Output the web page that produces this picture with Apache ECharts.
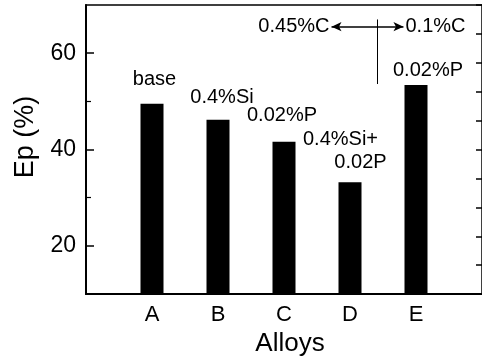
<!DOCTYPE html>
<html>
<head>
<meta charset="utf-8">
<script src="https://cdn.jsdelivr.net/npm/echarts@6/dist/echarts.min.js"></script>
<style>
  html, body { margin: 0; padding: 0; background: #fff; }
  #chart { width: 482px; height: 362px; }
</style>
</head>
<body>
<div id="chart"></div>
<script>
  var categories = ['A', 'B', 'C', 'D', 'E'];
  var epValues = [49.5, 46.2, 41.6, 33.2, 53.4];
  var barNotes = ['base', '0.4%Si', '0.02%P', '{a|0.4%Si+}\n{b|0.02P}', '0.02%P'];
  var yTickLabels = [20, 40, 60];
  var yMinorTicks = [30, 50];
  var carbonNotes = ['0.45%C', '0.1%C'];

  // label nudges, in px
  var noteOffsets = [[2.5, -14.7], [4, -11.7], [-2, -16.4], [0.5, -8.3], [12, -4.7]];

  var font = 'Liberation Sans, Arial, sans-serif';
  var chart = echarts.init(document.getElementById('chart'));

  var barData = epValues.map(function (v, i) {
    return { value: [i + 1, v], label: { offset: noteOffsets[i] } };
  });

  var option = {
    animation: false,
    grid: {
      left: 86, right: -1, top: 5, bottom: 66,
      show: true, borderColor: '#000', borderWidth: 1.5
    },
    xAxis: {
      type: 'value', min: 0, max: 6, interval: 1,
      name: 'Alloys', nameLocation: 'middle', nameGap: 34,
      nameTextStyle: { color: '#000', fontSize: 26, fontFamily: font, padding: [0, 0, 0, 12] },
      axisLine: { lineStyle: { color: '#000', width: 2 } },
      axisTick: { show: false },
      splitLine: { show: false },
      axisLabel: {
        customValues: categories.map(function (c, i) { return i + 1; }),
        formatter: function (v) { return categories[v - 1] || ''; },
        color: '#000', fontSize: 22, fontFamily: font, margin: 10
      }
    },
    yAxis: [
      {
        type: 'value', min: 10, max: 70,
        name: 'Ep (%)', nameLocation: 'middle', nameGap: 46,
        nameTextStyle: { color: '#000', fontSize: 27, fontFamily: font, padding: [0, 0, 0, 25] },
        axisLine: { show: true, lineStyle: { color: '#000', width: 2 } },
        axisTick: { inside: true, length: 8, customValues: yTickLabels, lineStyle: { color: '#000', width: 1.5 } },
        axisLabel: { customValues: yTickLabels, color: '#000', fontSize: 23, fontFamily: font, margin: 10 },
        splitLine: { show: false }
      },
      {
        type: 'value', min: 10, max: 70, position: 'left',
        axisLine: { show: false },
        axisTick: { show: true, inside: true, length: 5, customValues: yMinorTicks, lineStyle: { color: '#000', width: 1.2 } },
        axisLabel: { show: false },
        splitLine: { show: false }
      },
      {
        type: 'value', min: 0, max: 10, interval: 1, position: 'right',
        axisLine: { show: false },
        axisTick: { show: true, inside: true, length: 6, lineStyle: { color: '#000', width: 1.5 } },
        axisLabel: { show: false },
        splitLine: { show: false }
      }
    ],
    series: [
      {
        type: 'bar',
        barWidth: 23,
        clip: true,
        itemStyle: { color: '#000' },
        data: barData,
        label: {
          show: true,
          position: 'top',
          distance: 0,
          color: '#000',
          fontSize: 20,
          lineHeight: 20,
          fontFamily: font,
          formatter: function (p) { return barNotes[p.dataIndex]; },
          rich: {
            a: { fontSize: 20, fontFamily: font, color: '#000', lineHeight: 23, padding: [0, 20, 0, 0] },
            b: { fontSize: 20, fontFamily: font, color: '#000', lineHeight: 23, padding: [0, 0, 0, 20] }
          }
        },
        markLine: {
          silent: true,
          symbol: ['none', 'arrow'],
          symbolSize: [7, 10],
          lineStyle: { color: '#000', width: 1.5, type: 'solid' },
          label: {
            show: true, position: 'end', distance: 2,
            color: '#000', fontSize: 20, fontFamily: font,
            padding: [6, 0, 0, 0],
            formatter: function (p) { return p.name; }
          },
          data: [
            [{ coord: [4.42, 65.5], name: carbonNotes[0] }, { coord: [3.72, 65.5] }],
            [{ coord: [4.42, 65.5], name: carbonNotes[1] }, { coord: [4.81, 65.5] }],
            [
              { coord: [4.42, 67.0], symbol: 'none', label: { show: false }, lineStyle: { width: 1 } },
              { coord: [4.42, 53.6], symbol: 'none' }
            ]
          ]
        }
      }
    ]
  };

  chart.setOption(option);
</script>
</body>
</html>
